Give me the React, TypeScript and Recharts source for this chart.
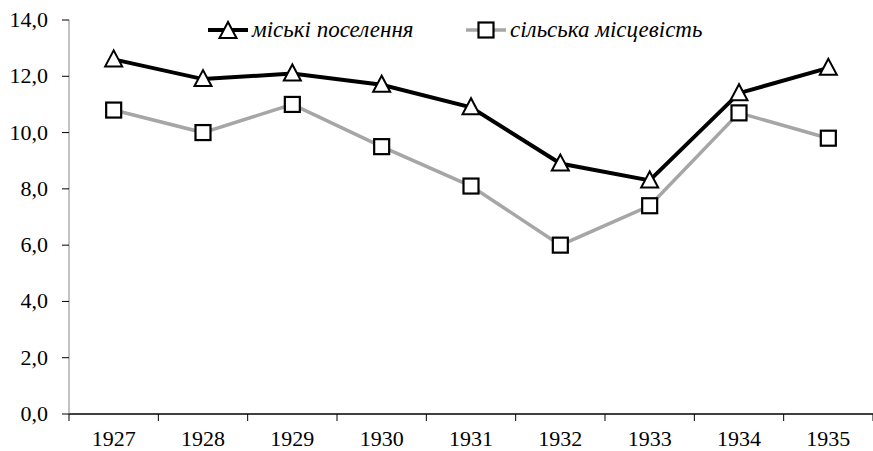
import React from 'react';
import { LineChart, Line, XAxis, YAxis, Legend } from 'recharts';

// Years on the category axis
const YEARS = ['1927', '1928', '1929', '1930', '1931', '1932', '1933', '1934', '1935'];
// міські поселення
const URBAN = [12.6, 11.9, 12.1, 11.7, 10.9, 8.9, 8.3, 11.4, 12.3];
// сільська місцевість
const RURAL = [10.8, 10.0, 11.0, 9.5, 8.1, 6.0, 7.4, 10.7, 9.8];
const Y_TICKS = [0, 2, 4, 6, 8, 10, 12, 14];

const URBAN_NAME = 'міські поселення';
const RURAL_NAME = 'сільська місцевість';

const FONT = "'Liberation Serif', 'Times New Roman', Times, serif";
const RURAL_COLOR = '#a6a6a6';
const TICK_STYLE = { fontSize: 22, fontFamily: FONT, fill: '#000' };

// each year sits in the middle of its band [i, i+1]
const chartData = YEARS.map((year, i) => ({ x: i + 0.5, year, urban: URBAN[i], rural: RURAL[i] }));
// integer ticks = band edges (tick marks), half ticks = year labels
const X_TICKS = Array.from({ length: YEARS.length * 2 + 1 }, (_, i) => i / 2);

const Triangle = ({ cx, cy }: { cx?: number; cy?: number }) => {
  if (cx == null || cy == null) return null;
  return (
    <polygon
      points={`${cx},${cy - 9} ${cx - 8.5},${cy + 7} ${cx + 8.5},${cy + 7}`}
      fill="#fff"
      stroke="#000"
      strokeWidth={2}
    />
  );
};

const Square = ({ cx, cy }: { cx?: number; cy?: number }) => {
  if (cx == null || cy == null) return null;
  return <rect x={cx - 7.5} y={cy - 7.5} width={15} height={15} fill="#fff" stroke="#000" strokeWidth={2.2} />;
};

function XTick(props: any) {
  const { x, y, payload } = props;
  const v = payload.value as number;
  if (Number.isInteger(v)) {
    return <line x1={x} y1={y} x2={x} y2={y + 7} stroke="#000" strokeWidth={1} />;
  }
  return (
    <text x={x} y={y + 32} textAnchor="middle" style={TICK_STYLE}>
      {YEARS[Math.floor(v)]}
    </text>
  );
}

function YTick(props: any) {
  const { x, y, payload } = props;
  return (
    <text x={x} y={y} dy={7} textAnchor="end" style={TICK_STYLE}>
      {(payload.value as number).toFixed(1).replace('.', ',')}
    </text>
  );
}

function LegendContent() {
  const item = (left: number, color: string, w: number, marker: React.ReactNode, label: string) => (
    <div style={{ position: 'absolute', left, top: 0, display: 'flex', alignItems: 'center', whiteSpace: 'nowrap' }}>
      <svg width={40} height={22}>
        <line x1={0} y1={11} x2={40} y2={11} stroke={color} strokeWidth={w} />
        {marker}
      </svg>
      <span style={{ fontStyle: 'italic', fontSize: 23, fontFamily: FONT, marginLeft: 4, lineHeight: '22px' }}>
        {label}
      </span>
    </div>
  );
  return (
    <div style={{ position: 'relative', height: 22 }}>
      {item(208, '#000', 4, <Triangle cx={20} cy={12} />, URBAN_NAME)}
      {item(466, RURAL_COLOR, 3.5, <Square cx={20} cy={11} />, RURAL_NAME)}
    </div>
  );
}

export default function App() {
  return (
    <div style={{ width: 873, height: 451, background: '#fff' }}>
      <style>{`body{margin:0}`}</style>
      <LineChart
        width={873}
        height={451}
        data={chartData}
        margin={{ top: 20, right: 0, bottom: 0, left: 0 }}
      >
        <XAxis
          dataKey="x"
          type="number"
          domain={[0, YEARS.length]}
          ticks={X_TICKS}
          interval={0}
          allowDataOverflow
          height={37}
          tickSize={0}
          tickMargin={0}
          tickLine={false}
          axisLine={{ stroke: '#000', strokeWidth: 1.5 }}
          tick={<XTick />}
        />
        <YAxis
          domain={[0, 14]}
          ticks={Y_TICKS}
          width={69}
          tickSize={7}
          tickMargin={14}
          axisLine={{ stroke: '#868686' }}
          tickLine={{ stroke: '#000' }}
          tick={<YTick />}
        />
        <Legend
          verticalAlign="middle"
          content={() => <LegendContent />}
          wrapperStyle={{ top: 19, left: 0, width: 873 }}
        />
        <Line
          dataKey="rural"
          name={RURAL_NAME}
          stroke={RURAL_COLOR}
          strokeWidth={3.5}
          dot={<Square />}
          isAnimationActive={false}
        />
        <Line
          dataKey="urban"
          name={URBAN_NAME}
          stroke="#000"
          strokeWidth={4}
          dot={<Triangle />}
          isAnimationActive={false}
        />
      </LineChart>
    </div>
  );
}
